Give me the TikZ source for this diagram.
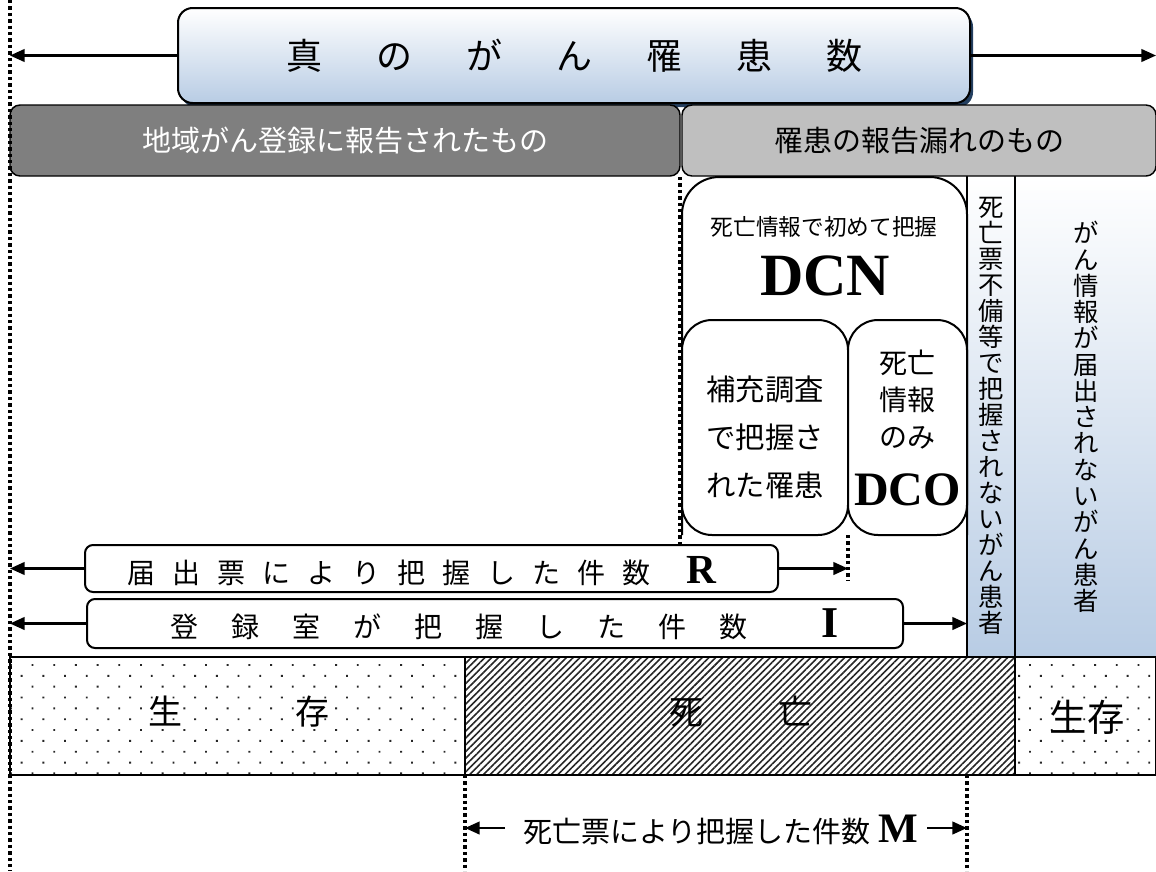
\documentclass[tikz,border=0pt]{standalone}
\usepackage{fontspec}
\newfontfamily\jp{Noto Sans CJK JP}
\newfontfamily\lat{Liberation Serif}
\usetikzlibrary{arrows.meta,patterns.meta}
\definecolor{lblue}{RGB}{184,204,228}
\definecolor{navy}{RGB}{36,63,96}
\definecolor{dgray}{RGB}{127,127,127}
\definecolor{lgray}{RGB}{191,191,191}
\tikzset{
  arr/.style={line width=1.6pt,-{Triangle[length=11pt,width=9.5pt]}},
  dotline/.style={line width=2.6pt,dash pattern=on 2.6pt off 2.2pt},
  box/.style={draw,line width=1.5pt,inner sep=0pt},
  txt/.style={inner sep=0pt},
  dotfill/.style={line width=1.3pt,pattern={Dots[radius=1pt,distance=11.5pt,angle=45]},pattern color=black!85},
  hatchfill/.style={line width=1.3pt,pattern={Lines[angle=45,distance=3.6pt,line width=1.2pt]},pattern color=black!85},
}
\begin{document}
\begin{tikzpicture}[x=0.75pt,y=-0.75pt]
\useasboundingbox[fill=white] (0,0) rectangle (1156,871);

% right columns
\shade[top color=white,bottom color=lblue] (967,176) rectangle (1015,657);
\shade[top color=white,bottom color=lblue] (1015,176) rectangle (1156,657);
\draw[line width=1.6pt] (967,176) -- (967,657) (1015,176) -- (1015,657);
\node[txt,font=\jp\fontsize{19pt}{19.5pt}\selectfont,align=center] (col1) at (991,416)
 {死\\亡\\票\\不\\備\\等\\で\\把\\握\\さ\\れ\\な\\い\\が\\ん\\患\\者};
\node[txt,font=\jp\fontsize{19pt}{19.7pt}\selectfont,align=center] (col2) at (1086,417)
 {が\\ん\\情\\報\\が\\届\\出\\さ\\れ\\な\\い\\が\\ん\\患\\者};

% bottom band
\draw[dotfill] (10,657) rectangle (465,775);
\draw[hatchfill] (465,657) rectangle (1015,775);
\draw[dotfill] (1015,657) rectangle (1156,775);
\node[txt,font=\jp\fontsize{25.5pt}{30pt}\selectfont] (alive1) at (238.5,712) {生\hspace{84.75pt}存};
\node[txt,font=\jp\fontsize{25.5pt}{30pt}\selectfont] (dead) at (741,712) {死\hspace{57pt}亡};
\node[txt,font=\jp\fontsize{28pt}{32pt}\selectfont] (alive2) at (1087,717) {生存};

% title
\fill[navy,rounded corners=11pt] (181,12) rectangle (973,107);
\node[box,rounded corners=11pt,top color=white,bottom color=lblue,minimum width=594pt,minimum height=71.25pt,
  font=\jp\fontsize{27pt}{32pt}\selectfont] (title) at (574,55.5)
  {真\hspace{1.5em}の\hspace{1.5em}が\hspace{1.5em}ん\hspace{1.5em}罹\hspace{1.5em}患\hspace{1.5em}数};
\coordinate (tL) at (10,55.5);
\coordinate (tR) at (1156,55.5);
\draw[arr] (title.west) -- (tL);
\draw[arr] (title.east) -- (tR);

% gray bars
\node[box,line width=1.1pt,rounded corners=7.5pt,fill=dgray,text=white,minimum width=502.5pt,minimum height=53.25pt,
  font=\jp\fontsize{21.75pt}{26pt}\selectfont] (regbar) at (345,140.5) {地域がん登録に報告されたもの};
\node[box,line width=1.1pt,rounded corners=7.5pt,fill=lgray,minimum width=355.5pt,minimum height=53.25pt,
  font=\jp\fontsize{21.75pt}{26pt}\selectfont] (missbar) at (919,140.5) {罹患の報告漏れのもの};

% DCN box
\path[fill=white,rounded corners=28pt] (682,535) -- (682,177) -- (967,177) -- (967,535) -- cycle;
\draw[line width=1.5pt,rounded corners=28pt] (682,535) -- (682,177) -- (967,177) -- (967,535);
\node[txt,font=\jp\fontsize{17pt}{20pt}\selectfont] (dcncap) at (824,227) {死亡情報で初めて把握};
\node[txt,anchor=base,font=\lat\bfseries\fontsize{45pt}{45pt}\selectfont] (dcn) at (825,295) {DCN};

\node[box,rounded corners=22.5pt,fill=white,minimum width=124.5pt,minimum height=161.25pt] (supp) at (765,427.5) {};
\node[txt,align=center,font=\jp\fontsize{22pt}{36pt}\selectfont] (supptxt) at (765,437) {補充調査\\で把握さ\\れた罹患};
\node[box,rounded corners=22.5pt,fill=white,minimum width=89.25pt,minimum height=161.25pt] (dco) at (907.5,427.5) {};
\node[txt,align=center,font=\jp\fontsize{21pt}{27.75pt}\selectfont] (dcotxt) at (907.5,400) {死亡\\情報\\のみ};
\node[txt,anchor=base,font=\lat\bfseries\fontsize{36pt}{36pt}\selectfont] (dcolab) at (907.5,505) {DCO};

% R and I boxes
\node[box,rounded corners=6pt,fill=white,minimum width=519.75pt,minimum height=35.25pt] (rbox) at (431.5,568.5) {};
\node[txt,anchor=base west,font=\jp\fontsize{21pt}{25pt}\selectfont] (rtxt) at (127,583)
 {届\hspace{12.75pt}出\hspace{12.75pt}票\hspace{12.75pt}に\hspace{12.75pt}よ\hspace{12.75pt}り\hspace{12.75pt}把\hspace{12.75pt}握\hspace{12.75pt}し\hspace{12.75pt}た\hspace{12.75pt}件\hspace{12.75pt}数\hspace{27pt}{\lat\bfseries\fontsize{31pt}{31pt}\selectfont R}};
\node[box,rounded corners=6pt,fill=white,minimum width=612pt,minimum height=36.75pt] (ibox) at (495,623.5) {};
\node[txt,anchor=base west,font=\jp\fontsize{21pt}{25pt}\selectfont] (itxt) at (170,637)
 {登\hspace{24.75pt}録\hspace{24.75pt}室\hspace{24.75pt}が\hspace{24.75pt}把\hspace{24.75pt}握\hspace{24.75pt}し\hspace{24.75pt}た\hspace{24.75pt}件\hspace{24.75pt}数\hspace{55.5pt}{\lat\bfseries\fontsize{33pt}{33pt}\selectfont I}};

% dotted guide lines
\draw[dotline] (10,0) -- (10,871);
\draw[dotline] (680,177) -- (680,545);
\draw[dotline] (848,535) -- (848,580);
\draw[dotline] (465,775) -- (465,871);
\draw[dotline] (967,775) -- (967,871);

% arrows R, I
\coordinate (rL) at (10,568.5);
\coordinate (rR) at (848,568.5);
\coordinate (iL) at (10,623.5);
\coordinate (iR) at (967,623.5);
\draw[arr] (rbox.west) -- (rL);
\draw[arr] (rbox.east) -- (rR);
\draw[arr] (ibox.west) -- (iL);
\draw[arr] (ibox.east) -- (iR);

% M row
\node[txt,anchor=base west,font=\jp\fontsize{21.75pt}{26pt}\selectfont] (mtxt) at (523,842)
 {死亡票により把握した件数\hspace{6pt}{\lat\bfseries\fontsize{31.5pt}{31.5pt}\selectfont M}};
\coordinate (mA) at (505,828);
\coordinate (mL) at (465,828);
\coordinate (mB) at (927,828);
\coordinate (mR) at (967,828);
\draw[arr] (mA) -- (mL);
\draw[arr] (mB) -- (mR);
\end{tikzpicture}
\end{document}
